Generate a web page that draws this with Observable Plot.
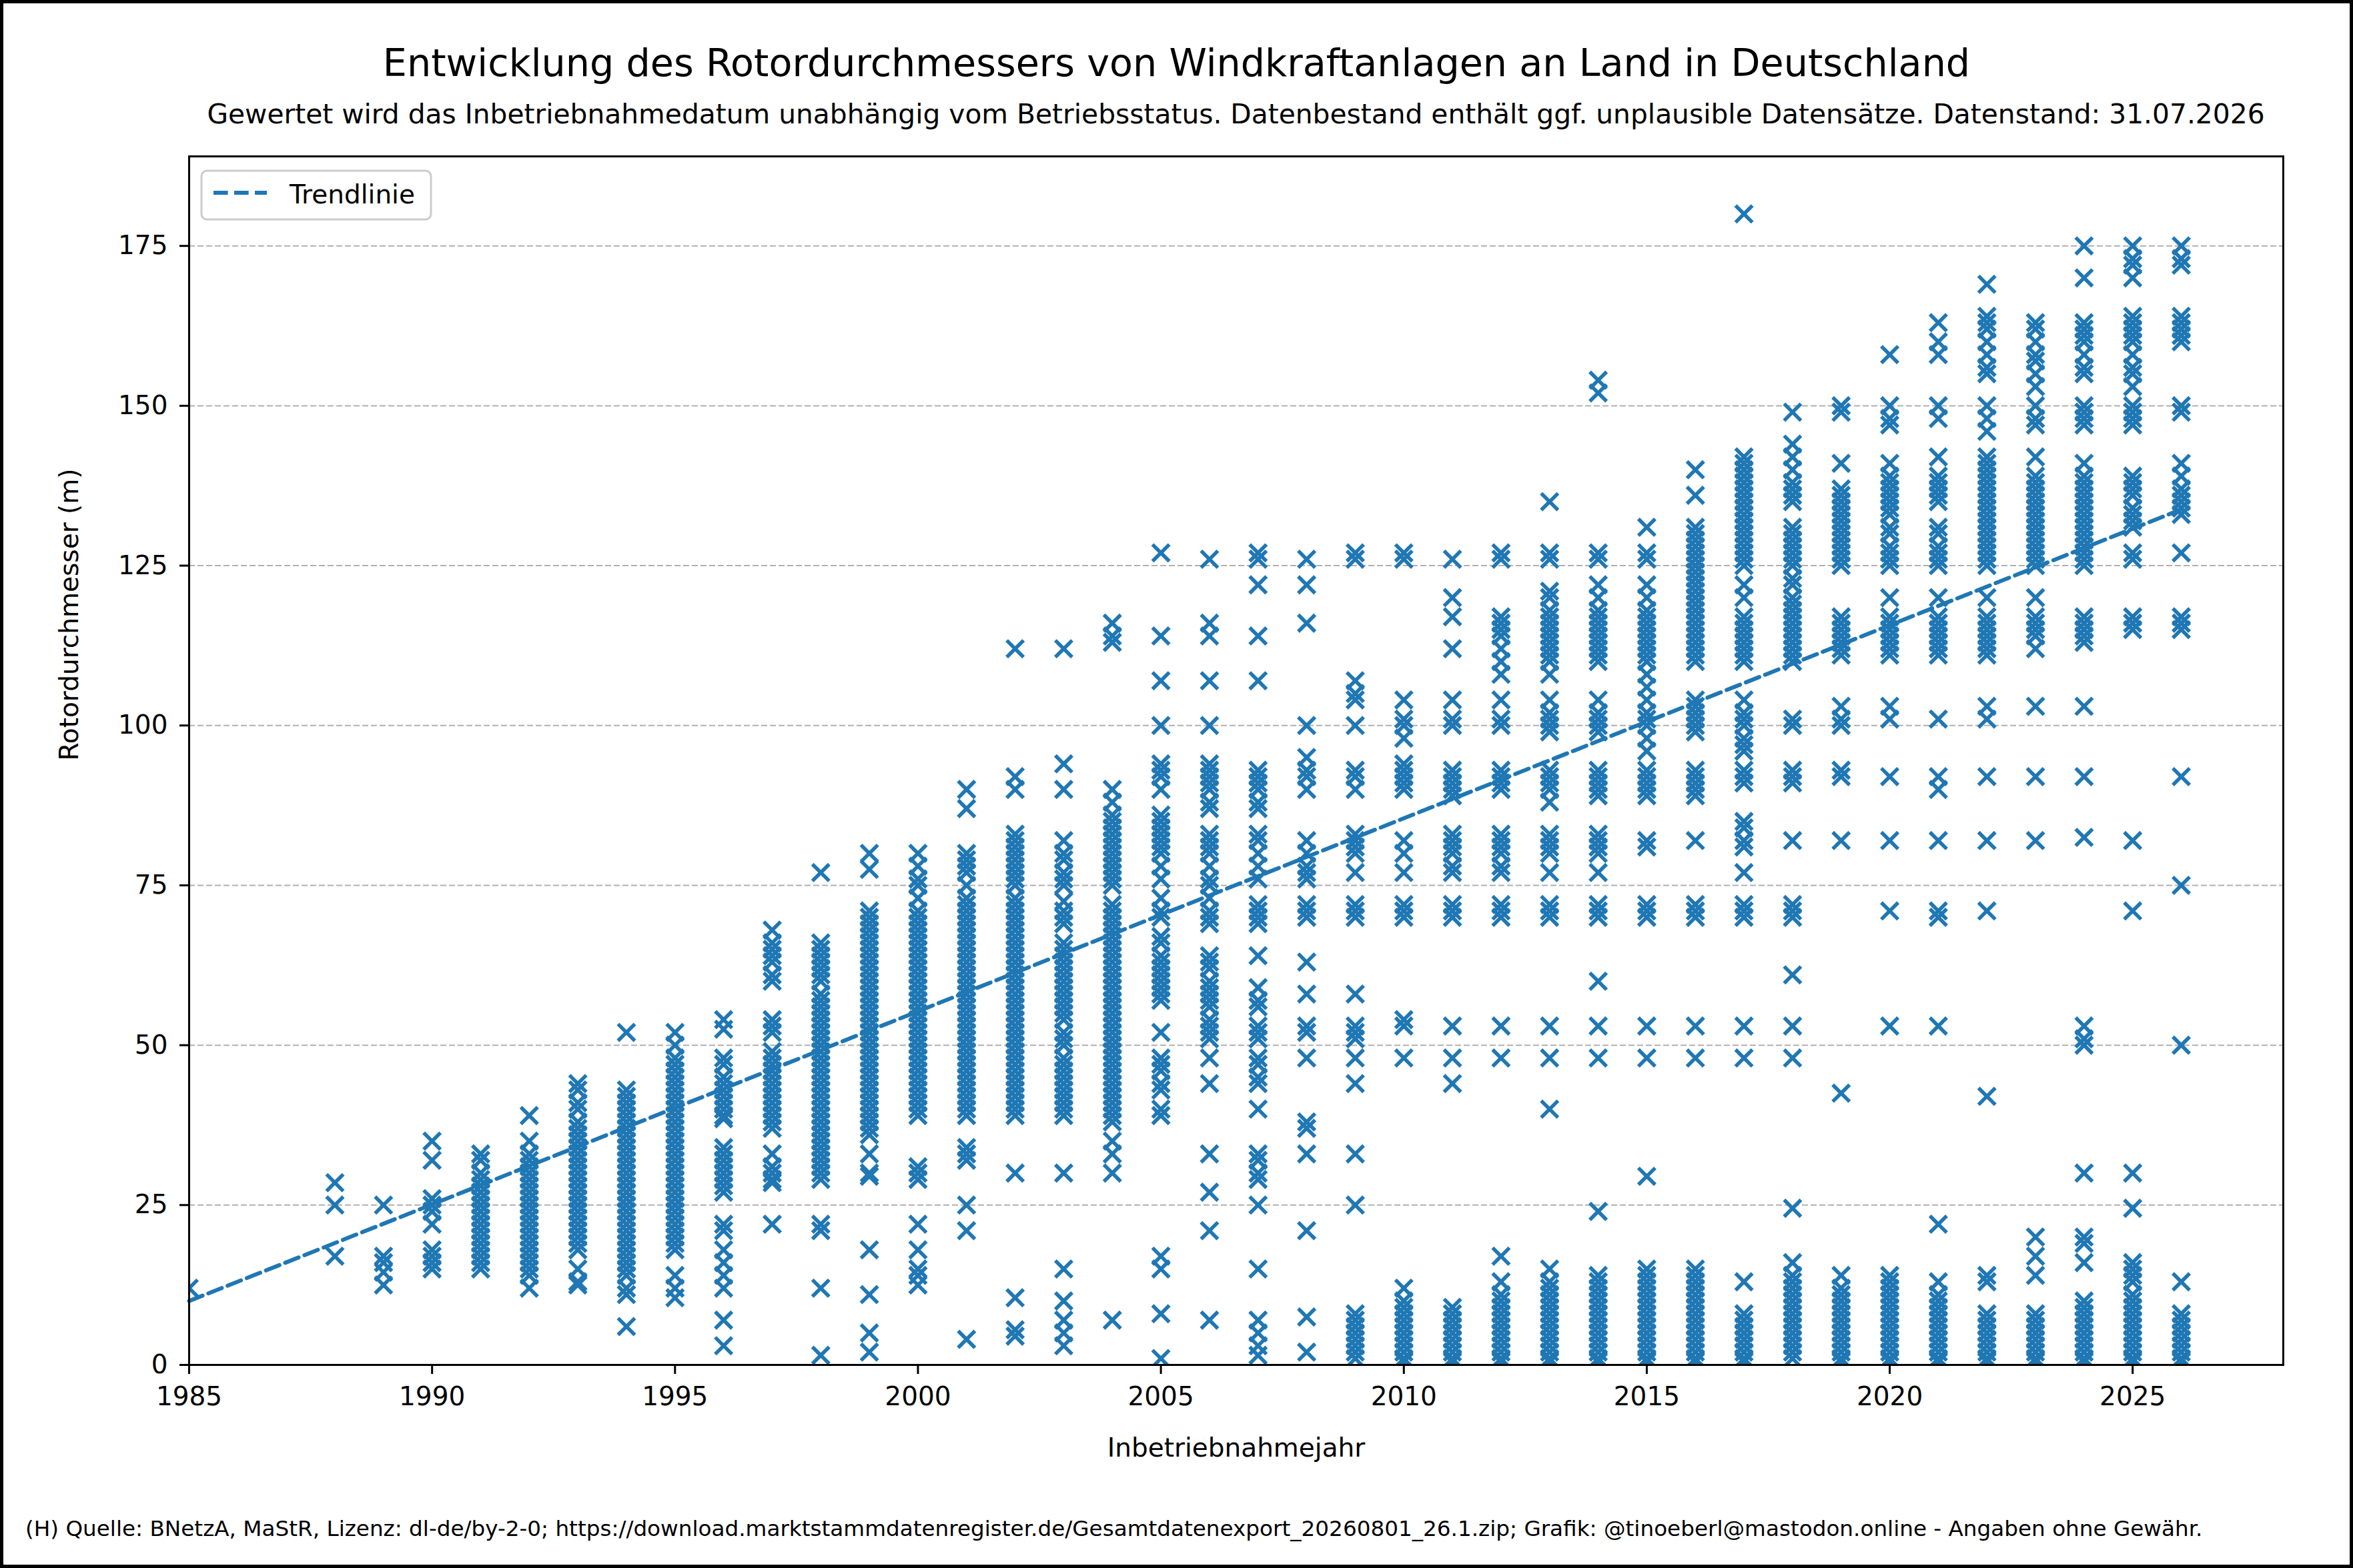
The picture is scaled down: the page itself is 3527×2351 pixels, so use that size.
<!DOCTYPE html>
<html>
<head>
<meta charset="utf-8">
<script src="https://cdn.jsdelivr.net/npm/d3@7"></script>
<script src="https://cdn.jsdelivr.net/npm/@observablehq/plot@0.6"></script>
<style>
html, body { margin: 0; padding: 0; background: #fff; }
#chart { width: 3527px; height: 2351px; }
svg { display: block; }
</style>
</head>
<body>
<div id="chart"></div>
<script>
// ---------- texts ----------
const titleText = "Entwicklung des Rotordurchmessers von Windkraftanlagen an Land in Deutschland";
const subtitleText = "Gewertet wird das Inbetriebnahmedatum unabhängig vom Betriebsstatus. Datenbestand enthält ggf. unplausible Datensätze. Datenstand: 31.07.2026";
const footerText = "(H) Quelle: BNetzA, MaStR, Lizenz: dl-de/by-2-0; https://download.marktstammdatenregister.de/Gesamtdatenexport_20260801_26.1.zip; Grafik: @tinoeberl@mastodon.online - Angaben ohne Gewähr.";
const xLabel = "Inbetriebnahmejahr";
const yLabel = "Rotordurchmesser (m)";
const legendLabel = "Trendlinie";

// ---------- ticks ----------
const xTicks = [1985, 1990, 1995, 2000, 2005, 2010, 2015, 2020, 2025];
const yTicks = [0, 25, 50, 75, 100, 125, 150, 175];
const yGrid = [25, 50, 75, 100, 125, 150, 175];

// ---------- trend line ----------
const trendYears = [1985, 2026];
const trendValues = [10.0, 133.8];

// ---------- rotor diameters (m) per commissioning year ----------
const r1985 = [12];
const r1988 = [28.5, 25, 17];
const r1989 = [25, 17, 16, 14.5, 12.5];
const r1990 = [35, 32, 26, 25, 24, 22, 18, 17, 16, 15];
const r1991 = [33, 32, 30, 29, 28, 27, 26, 25, 24, 23, 22, 21, 20, 19, 18, 17, 16, 15];
const r1992 = [39, 35, 33, 32, 31, 30, 29, 28, 27, 26, 25, 24, 23, 22, 21, 20, 19, 18, 17, 16, 15, 14, 12];
const r1993 = [44, 43, 41, 40, 38, 37, 36, 35, 34, 33, 32, 31, 30, 29, 28, 27, 26, 25, 24, 23, 22, 21, 20, 19, 18, 15, 13, 12.5];
const r1994 = [52, 43, 42, 41, 40, 39, 38, 37, 36, 35, 34, 33, 32, 31, 30, 29, 28, 27, 26, 25, 24, 23, 22, 21, 20, 19, 18, 17, 16, 15, 14, 12, 11, 6];
const r1995 = [52, 50, 48, 47, 46, 45, 44, 43, 42, 41, 40, 39, 38, 37, 36, 35, 34, 33, 32, 31, 30, 29, 28, 27, 26, 25, 24, 23, 22, 21, 20, 19, 18, 14, 12, 10.5];
const r1996 = [54, 52.5, 48, 47, 45, 44, 43, 42, 41, 40, 39, 38.5, 34, 33, 32, 31, 30, 29, 28, 27, 22, 21, 18, 16, 14, 12, 7, 3];
const r1997 = [68, 66, 65, 64, 63, 61, 60, 54, 53, 52, 49, 48, 47, 46, 45, 44, 43, 42, 41, 40, 39, 38, 37, 33, 31, 30, 29, 28.5, 22];
const r1998 = [77, 66, 65, 64, 63, 62, 61, 60, 58, 57, 56, 55, 54, 53, 52, 51, 50, 49, 48, 47, 46, 45, 44, 43, 42, 41, 40, 39, 38, 37, 36, 35, 34, 33, 32, 31, 30, 29, 22, 21, 12, 1.5];
const r1999 = [80, 77.5, 71, 70, 69, 68, 67, 66, 65, 64, 63, 62, 61, 60, 59, 58, 57, 56, 55, 54, 53, 52, 51, 50, 49, 48, 47, 46, 45, 44, 43, 42, 41, 40, 39, 38, 37, 36, 33, 30, 29.5, 18, 11, 5, 2];
const r2000 = [80, 78, 76, 75, 73, 71, 70, 69, 68, 67, 66, 65, 64, 63, 62, 61, 60, 59, 58, 57, 56, 55, 54, 53, 52, 51, 50, 49, 48, 47, 46, 45, 44, 43, 42, 41, 40, 39, 31, 30, 29, 22, 18, 15, 14, 12.5];
const r2001 = [90, 87, 80, 79, 78, 77, 75, 73, 72, 71, 70, 69, 68, 67, 66, 65, 64, 63, 62, 61, 60, 59, 58, 57, 56, 55, 54, 53, 52, 51, 50, 49, 48, 47, 46, 45, 44, 43, 42, 41, 40, 39, 34, 33, 32, 25, 21, 4];
const r2002 = [112, 92, 90, 83, 82, 81, 80, 79, 78, 77, 76, 75, 73, 72, 71, 70, 69, 68, 67, 66, 65, 64, 63, 62, 61, 60, 59, 58, 57, 56, 55, 54, 53, 52, 51, 50, 49, 48, 47, 46, 45, 44, 43, 42, 41, 40, 39, 30, 10.5, 5.5, 4.5];
const r2003 = [112, 94, 90, 82, 80, 79, 77, 76, 75, 72.5, 71, 70, 69, 66, 65, 64, 63, 62, 61, 60, 59, 58, 57, 56, 55, 54, 52, 51, 50, 48, 47, 46, 45, 44, 43, 42, 41, 40, 39, 30, 15, 10, 7, 5, 3];
const r2004 = [116, 114, 113, 90, 88, 86, 85, 84, 83, 82, 81, 80, 79, 78, 77, 76, 75, 72, 71, 70, 69, 68, 67, 66, 65, 64, 63, 62, 61, 60, 59, 58, 57, 56, 55, 54, 53, 52, 51, 50, 49, 48, 47, 46, 45, 44, 43, 42, 41, 40, 39, 38, 35, 33, 30, 7];
const r2005 = [127, 114, 107, 100, 94, 93, 92, 90, 86, 85, 84, 83, 82, 81, 80, 78, 76, 73, 71, 70, 67, 66, 64, 63, 62, 61, 60, 59, 58, 57, 52, 48, 47, 46, 44, 43, 40, 39, 17, 15, 8, 1];
const r2006 = [126, 116, 114, 107, 100, 94, 93, 92, 91, 90, 88, 87, 83, 82, 81, 80, 78, 76, 75, 73, 71, 70, 69, 64, 63, 62, 60, 59, 58, 57, 56, 54, 53, 52, 51, 48, 44, 33, 27, 21, 7];
const r2007 = [127, 126, 122, 114, 107, 93, 92, 91, 90, 88, 87, 83, 82, 80, 78, 76, 72, 71, 70, 69, 64, 59, 57, 56, 53, 52, 51, 48, 47, 45, 44, 40, 33, 32, 30, 29, 25, 15, 7, 5, 3, 1.5];
const r2008 = [126, 122, 116, 100, 95, 93, 92, 90, 82, 80, 78, 77, 76, 72, 71, 70, 63, 58, 53, 52, 48, 38, 37, 33, 21, 7.5, 2];
const r2009 = [127, 126, 107, 105, 104, 100, 93, 92, 90, 83, 82, 81, 80, 77, 72, 71, 70, 58, 53, 52, 51, 48, 44, 33, 25, 8, 7, 6, 5, 4, 3, 2, 1];
const r2010 = [127, 126, 104, 101, 100, 98, 94, 93, 92, 91, 90, 82, 80, 77, 72, 71, 70, 54, 53, 48, 12, 10, 9, 8, 7, 6, 5, 4, 3, 2, 1, 0.5];
const r2011 = [126, 120, 117, 112, 104, 101, 100, 93, 92, 91, 90, 89, 83, 82, 81, 80, 78, 77, 72, 71, 70, 53, 48, 44, 9, 8, 7, 6, 5, 4, 3, 2, 1, 0.5];
const r2012 = [127, 126, 117, 116, 115, 114, 112, 110, 108, 104, 101, 100, 93, 92, 91, 90, 83, 82, 81, 80, 78, 77, 72, 71, 70, 53, 48, 17, 13, 11, 10, 9, 8, 7, 6, 5, 4, 3, 2, 1, 0.5];
const r2013 = [135, 127, 126, 121, 120, 118, 117, 116, 115, 114, 113, 112, 111, 110, 108, 104, 102, 101, 100, 99, 93, 92, 91, 90, 88, 83, 82, 81, 80, 77, 72, 71, 70, 53, 48, 40, 15, 13, 12, 11, 10, 9, 8, 7, 6, 5, 4, 3, 2, 1, 0.5];
const r2014 = [154, 152, 127, 126, 122, 120, 118, 117, 116, 115, 114, 113, 112, 111, 110, 104, 102, 101, 100, 99, 93, 92, 91, 90, 89, 83, 82, 81, 80, 77, 72, 71, 70, 60, 53, 48, 24, 14, 13, 12, 11, 10, 9, 8, 7, 6, 5, 4, 3, 2, 1, 0.5];
const r2015 = [131, 127, 126, 122, 120, 118, 117, 116, 115, 114, 113, 112, 111, 110, 108, 106, 104, 102, 101, 100, 98, 96, 93, 92, 91, 90, 89, 82, 81, 72, 71, 70, 53, 48, 29.5, 15, 14, 13, 12, 11, 10, 9, 8, 7, 6, 5, 4, 3, 2, 1, 0.5];
const r2016 = [140, 136, 131, 130, 129, 128, 127, 126, 125, 124, 123, 122, 121, 120, 119, 118, 117, 116, 115, 114, 113, 112, 111, 110, 104, 103, 102, 101, 100, 99, 93, 92, 91, 90, 89, 82, 72, 71, 70, 53, 48, 15, 14, 13, 12, 11, 10, 9, 8, 7, 6, 5, 4, 3, 2, 1, 0.5];
const r2017 = [180, 142, 141, 140, 139, 138, 137, 136, 135, 134, 133, 132, 131, 130, 129, 128, 127, 126, 125, 122, 120, 117, 116, 115, 114, 113, 112, 111, 110, 104, 102, 101, 100, 98, 97, 96, 93, 92, 91, 85, 84, 82, 81, 77, 72, 71, 70, 53, 48, 13, 8, 7, 6, 5, 4, 3, 2, 1, 0.5];
const r2018 = [149, 144, 142, 140, 138, 137, 136, 135, 131, 130, 129, 128, 127, 126, 125, 123, 122, 120, 119, 118, 117, 116, 115, 114, 113, 112, 111, 110, 101, 100, 93, 92, 91, 82, 72, 71, 70, 61, 53, 48, 24.5, 16, 14, 13, 12, 11, 10, 9, 8, 7, 6, 5, 4, 3, 2, 1];
const r2019 = [150, 149, 141, 137, 136, 135, 134, 133, 132, 131, 130, 129, 128, 127, 126, 125, 117, 116, 115, 114, 113, 112, 111, 103, 101, 100, 93, 92, 82, 42.5, 14, 12, 11, 10, 9, 8, 7, 6, 5, 4, 3, 2, 1, 0.5];
const r2020 = [158, 150, 148, 147, 141, 139, 138, 137, 136, 135, 134, 133, 131, 130, 128, 127, 126, 125, 120, 117, 116, 115, 114, 113, 112, 111, 103, 101, 92, 82, 71, 53, 14, 13, 12, 11, 10, 9, 8, 7, 6, 5, 4, 3, 2, 1, 0.5];
const r2021 = [163, 160, 158, 150, 148, 142, 139, 138, 137, 136, 135, 131, 130, 128, 127, 126, 125, 120, 117, 116, 115, 114, 113, 112, 111, 101, 92, 90, 82, 71, 70, 53, 22, 13, 11, 10, 9, 8, 7, 6, 5, 4, 3, 2, 1, 0.5];
const r2022 = [169, 164, 163, 162, 160, 158, 156, 155, 150, 148, 146, 142, 141, 140, 139, 138, 137, 136, 135, 134, 133, 132, 131, 130, 129, 128, 127, 126, 125, 120, 117, 116, 115, 114, 113, 112, 111, 103, 101, 92, 82, 71, 42, 14, 13, 8, 7, 6, 5, 4, 3, 2, 1, 0.5];
const r2023 = [163, 162, 160, 158, 157, 155, 153, 150, 148, 147, 142, 139, 138, 137, 136, 135, 134, 133, 132, 131, 130, 129, 128, 127, 126, 125, 120, 117, 116, 115, 114, 112, 103, 92, 82, 20, 17, 14, 8, 7, 6, 5, 4, 3, 2, 1, 0.5];
const r2024 = [175, 170, 163, 162, 161, 160, 158, 156, 155, 150, 149, 148, 147, 141, 139, 138, 137, 136, 135, 134, 133, 132, 131, 130, 129, 128, 127, 126, 125, 117, 116, 115, 114, 113, 103, 92, 82.5, 53, 51, 50, 30, 20, 19, 16, 10, 9, 8, 7, 6, 5, 4, 3, 2, 1, 0.5];
const r2025 = [175, 173, 172, 170, 164, 163, 162, 161, 160, 158, 156, 155, 153, 150, 149, 148, 147, 139, 138, 137, 136, 134, 133, 132, 131, 127, 126, 117, 116, 115, 82, 71, 30, 24.5, 16, 15, 14, 13, 11, 10, 9, 8, 7, 6, 5, 4, 3, 2, 1, 0.5];
const r2026 = [175, 173, 172, 164, 163, 162, 161, 160, 150, 149, 141, 139, 137, 136, 135, 134, 133, 127, 117, 116, 115, 92, 75, 50, 13, 8, 7, 6, 5, 4, 3, 2, 1, 0.5];

const yearGroups = [
  [1985, r1985], [1988, r1988], [1989, r1989], [1990, r1990], [1991, r1991],
  [1992, r1992], [1993, r1993], [1994, r1994], [1995, r1995], [1996, r1996],
  [1997, r1997], [1998, r1998], [1999, r1999], [2000, r2000], [2001, r2001],
  [2002, r2002], [2003, r2003], [2004, r2004], [2005, r2005], [2006, r2006],
  [2007, r2007], [2008, r2008], [2009, r2009], [2010, r2010], [2011, r2011],
  [2012, r2012], [2013, r2013], [2014, r2014], [2015, r2015], [2016, r2016],
  [2017, r2017], [2018, r2018], [2019, r2019], [2020, r2020], [2021, r2021],
  [2022, r2022], [2023, r2023], [2024, r2024], [2025, r2025], [2026, r2026]
];

const points = yearGroups.flatMap(([year, vals]) => vals.map(d => ({year, d})));
const trend = trendYears.map((year, i) => ({year, d: trendValues[i]}));

// ---------- font fitting helper ----------
const measureCtx = document.createElement("canvas").getContext("2d");
function fitFont(text, targetWidth, fallback) {
  measureCtx.font = '100px "DejaVu Sans"';
  const w = measureCtx.measureText(text).width;
  if (!w) return fallback;
  const s = 100 * targetWidth / w;
  return Math.max(fallback * 0.85, Math.min(fallback * 1.15, s));
}

const blue = "#1f77b4";

const chart = Plot.plot({
  width: 3527,
  height: 2351,
  marginLeft: 283,
  marginRight: 105,
  marginTop: 234,
  marginBottom: 305,
  style: { fontFamily: "DejaVu Sans", fontSize: "39px", background: "white", color: "black" },
  x: { domain: [1985, 2028.1] },
  y: { domain: [0, 189] },
  marks: [
    Plot.ruleY(yGrid, { stroke: "#b0b0b0", strokeWidth: 2, strokeDasharray: "9,4" }),
    Plot.dot(points, { x: "year", y: "d", symbol: "times", r: 11.5, stroke: blue, strokeWidth: 5.5, clip: true }),
    Plot.line(trend, { x: "year", y: "d", stroke: blue, strokeWidth: 6, strokeDasharray: "21.6,9.4" }),
    Plot.frame({ stroke: "black", strokeWidth: 3 }),
    Plot.axisX({ ticks: xTicks, tickFormat: d => String(d), tickSize: 14, tickPadding: 19, strokeWidth: 3, fontSize: 39, label: null }),
    Plot.axisY({ ticks: yTicks, tickFormat: d => String(d), tickSize: 14, tickPadding: 18, strokeWidth: 3, fontSize: 39, label: null }),
    Plot.text([xLabel], { frameAnchor: "bottom", dy: 137, fontSize: 39, text: d => d }),
    Plot.text([yLabel], { frameAnchor: "left", rotate: -90, dx: -179, fontSize: 39, text: d => d })
  ]
});

document.getElementById("chart").appendChild(chart);

const svg = d3.select(chart);

// title, subtitle, footer
svg.append("text")
  .attr("x", 1763.5).attr("y", 114)
  .attr("text-anchor", "middle")
  .attr("font-size", fitFont(titleText, 2380, 57))
  .attr("fill", "black")
  .text(titleText);

svg.append("text")
  .attr("x", 1852.5).attr("y", 185)
  .attr("text-anchor", "middle")
  .attr("font-size", fitFont(subtitleText, 3085, 39))
  .attr("fill", "black")
  .text(subtitleText);

svg.append("text")
  .attr("x", 38).attr("y", 2303)
  .attr("text-anchor", "start")
  .attr("font-size", fitFont(footerText, 3265, 31))
  .attr("fill", "black")
  .text(footerText);

// legend
const lg = svg.append("g");
lg.append("rect")
  .attr("x", 302).attr("y", 256).attr("width", 344).attr("height", 73)
  .attr("rx", 8).attr("fill", "white").attr("fill-opacity", 0.8)
  .attr("stroke", "#cccccc").attr("stroke-width", 3);
lg.append("line")
  .attr("x1", 320).attr("x2", 400).attr("y1", 289).attr("y2", 289)
  .attr("stroke", blue).attr("stroke-width", 6).attr("stroke-dasharray", "21.6,9.4");
lg.append("text")
  .attr("x", 434).attr("y", 305)
  .attr("text-anchor", "start")
  .attr("font-size", 39).attr("fill", "black")
  .text(legendLabel);

// figure border
svg.append("rect")
  .attr("x", 2.5).attr("y", 2.5).attr("width", 3522).attr("height", 2346)
  .attr("fill", "none").attr("stroke", "black").attr("stroke-width", 5);
</script>
</body>
</html>
